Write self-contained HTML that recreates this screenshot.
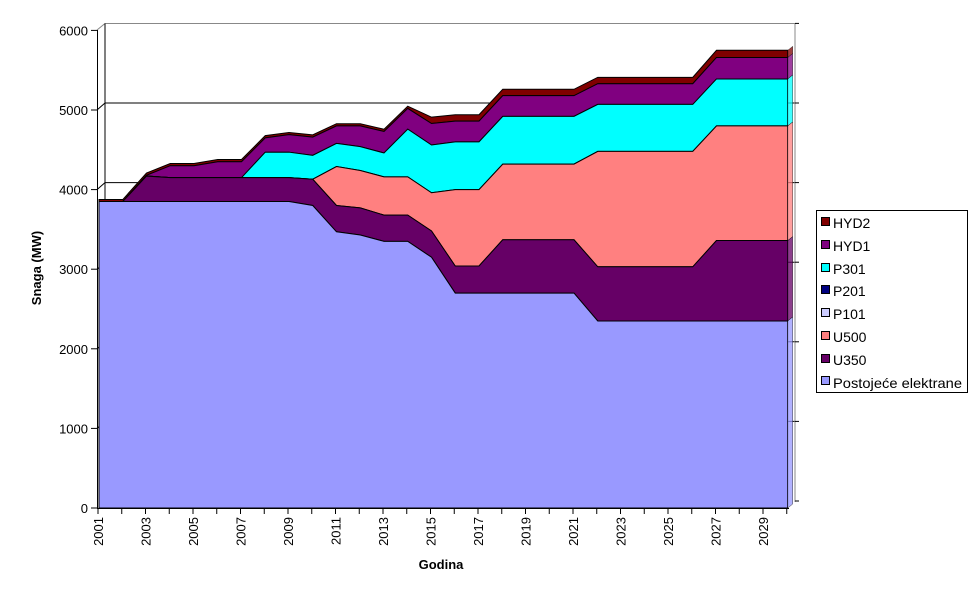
<!DOCTYPE html>
<html><head><meta charset="utf-8"><style>
body{margin:0;background:#fff;}
svg{display:block;font-family:"Liberation Sans",Arial,sans-serif;}
</style></head><body>
<svg id="s" width="977" height="600" xmlns="http://www.w3.org/2000/svg">
<rect width="977" height="600" fill="#fff"/>
<g id="grid"></g>
<g id="areas"></g>
<g id="axes"></g>
<text x="41" y="268" font-size="13" font-weight="bold" text-anchor="middle" transform="rotate(-90 41 268)">Snaga (MW)</text>
<text x="441" y="569" font-size="13" font-weight="bold" text-anchor="middle">Godina</text>
<rect x="816.5" y="210.5" width="151" height="182" fill="#fff" stroke="#000"/>
<g font-size="14">
<rect x="821.5" y="217.5" width="8" height="8" fill="#800000" stroke="#000"/><text x="833" y="228">HYD2</text>
<rect x="821.5" y="240.5" width="8" height="8" fill="#800080" stroke="#000"/><text x="833" y="251">HYD1</text>
<rect x="821.5" y="263.5" width="8" height="8" fill="#00FFFF" stroke="#000"/><text x="833" y="274">P301</text>
<rect x="821.5" y="285.5" width="8" height="8" fill="#000080" stroke="#000"/><text x="833" y="296">P201</text>
<rect x="821.5" y="308.5" width="8" height="8" fill="#CCCCFF" stroke="#000"/><text x="833" y="319">P101</text>
<rect x="821.5" y="331.5" width="8" height="8" fill="#FF8080" stroke="#000"/><text x="833" y="342">U500</text>
<rect x="821.5" y="354.5" width="8" height="8" fill="#660066" stroke="#000"/><text x="833" y="365">U350</text>
<rect x="821.5" y="376.5" width="8" height="8" fill="#9999FF" stroke="#000"/><text x="833" y="388" textLength="129" lengthAdjust="spacingAndGlyphs">Postojeće elektrane</text>
</g>
</svg>
<script>
var NS="http://www.w3.org/2000/svg";
function el(p,t,a,txt){var e=document.createElementNS(NS,t);for(var k in a)e.setAttribute(k,a[k]);if(txt)e.textContent=txt;document.getElementById(p).appendChild(e);return e;}
function X(i){return 99+i*23.75;}
function Y(v){return 508-v*0.0796;}
var blue=[3850,3850,3850,3850,3850,3850,3850,3850,3850,3800,3470,3430,3350,3350,3150,2700,2700,2700,2700,2700,2700,2350,2350,2350,2350,2350,2350,2350,2350,2350];
var u350=[3850,3850,4170,4150,4150,4150,4150,4150,4150,4130,3800,3770,3680,3680,3480,3040,3040,3370,3370,3370,3370,3030,3030,3030,3030,3030,3360,3360,3360,3360];
var u500=u350.slice();var tmp=[4290,4240,4160,4160,3960,4000,4000,4320,4320,4320,4320,4480,4480,4480,4480,4480,4800,4800,4800,4800];
for(var i=10;i<30;i++)u500[i]=tmp[i-10];
var p301=u500.slice();var t2=[4470,4470,4430,4580,4540,4460,4760,4560,4600,4600,4920,4920,4920,4920,5070,5070,5070,5070,5070,5390,5390,5390,5390];
for(var i=7;i<30;i++)p301[i]=t2[i-7];
var hyd1=[3850,3850,4180,4300,4300,4350,4350,4650,4690,4660,4800,4800,4730,5020,4830,4860,4860,5180,5180,5180,5180,5330,5330,5330,5330,5330,5660,5660,5660,5660];
var hyd2=hyd1.map(function(v,i){return v+(i<14?28:(i<26?80:90));});
hyd2[0]=3875;hyd2[1]=3875;
var g="grid";
[1000,2000,3000,4000,5000].forEach(function(v){var y=Y(v);el(g,"polyline",{points:"97,"+y+" 105,"+(y-7)+" 795,"+(y-7),fill:"none",stroke:"#000","stroke-width":1});});
el(g,"polyline",{points:"97,30 105,23.5 795,23.5 795,502",fill:"none",stroke:"#888","stroke-width":1});
el(g,"line",{x1:105,y1:23.5,x2:105,y2:502,stroke:"#000"});
function poly(top,bot,fill){var pts=[];for(var i=0;i<30;i++)pts.push(X(i)+","+Y(top[i]));for(var i=29;i>=0;i--)pts.push(X(i)+","+Y(bot[i]));
el("areas","polygon",{points:pts.join(" "),fill:fill,stroke:"#000","stroke-width":1});
el("areas","polygon",{points:X(29)+","+Y(top[29])+" "+(X(29)+5)+","+(Y(top[29])-4)+" "+(X(29)+5)+","+(Y(bot[29])-4)+" "+X(29)+","+Y(bot[29]),fill:fill,stroke:"#000","stroke-width":0.5,opacity:0.75});}
var zero=blue.map(function(){return 0;});
poly(hyd2,hyd1,"#800000");
poly(hyd1,p301,"#800080");
poly(p301,u500,"#00FFFF");
poly(u500,u350,"#FF8080");
poly(u350,blue,"#660066");
poly(blue,zero,"#9999FF");
var a="axes";
el(a,"line",{x1:97.5,y1:30,x2:97.5,y2:508,stroke:"#000"});
el(a,"line",{x1:97,y1:508.5,x2:789,y2:508.5,stroke:"#000"});
for(var v=0;v<=6000;v+=1000){var y=Y(v);el(a,"line",{x1:91,y1:y,x2:97,y2:y,stroke:"#000"});
el(a,"text",{x:88,y:y+5,"font-size":13,"text-anchor":"end"},String(v));
el(a,"line",{x1:795,y1:y-7,x2:799,y2:y-7,stroke:"#000"});}
for(var i=0;i<30;i++){var x=X(i)-1;el(a,"line",{x1:x,y1:508,x2:x,y2:514,stroke:"#000"});
if(i%2==0){var yr=2001+i;el(a,"text",{x:x+5,y:517,"font-size":13,"text-anchor":"end",transform:"rotate(-90 "+(x+5)+" 517)"},String(yr));}}
</script>
</body></html>
